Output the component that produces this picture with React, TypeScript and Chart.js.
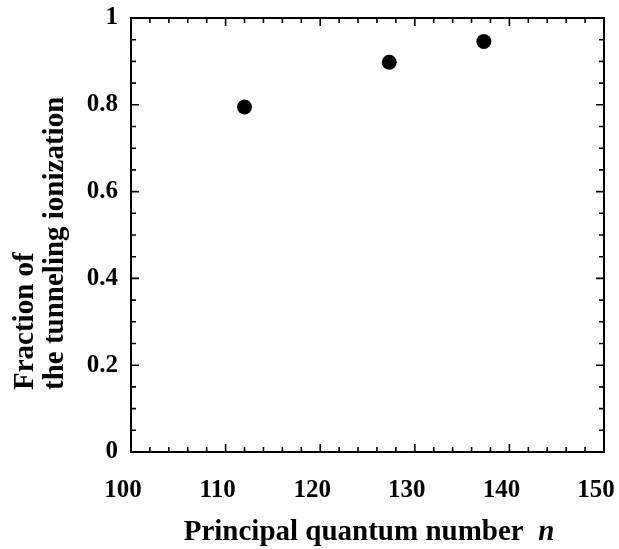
import React, { useEffect, useRef } from 'react';
import { Chart, registerables } from 'chart.js';

Chart.register(...registerables);

// ---- data ----
const quantumNumbers = [112, 127.3, 137.3];
const tunnelingFractions = [0.795, 0.898, 0.946];
const xTickValues = [100, 110, 120, 130, 140, 150];
const xTickLabels = ['100', '110', '120', '130', '140', '150'];
const yTickValues = [0, 0.2, 0.4, 0.6, 0.8, 1];
const yTickLabels = ['0', '0.2', '0.4', '0.6', '0.8', '1'];
const xMinorStep = 2;
const yMinorStep = 0.05;
const xTitleMain = 'Principal quantum number';
const xTitleVar = 'n';
const yTitleLines = ['Fraction of', 'the tunneling ionization'];

const FONT = '"Liberation Serif", "Times New Roman", serif';

const framePlugin = {
  id: 'frame',
  afterDraw(chart: any) {
    const { ctx, chartArea: a, scales } = chart;
    const x = scales.x;
    const y = scales.y;
    ctx.save();
    ctx.strokeStyle = '#000';
    ctx.lineWidth = 2;
    ctx.strokeRect(a.left, a.top, a.right - a.left, a.bottom - a.top);

    ctx.lineWidth = 1.6;
    const xMin = xTickValues[0];
    const xMax = xTickValues[xTickValues.length - 1];
    for (let i = 0; xMin + i * xMinorStep <= xMax + 1e-9; i++) {
      const v = xMin + i * xMinorStep;
      const px = x.getPixelForValue(v);
      const major = xTickValues.some((t) => Math.abs(t - v) < 1e-6);
      const len = major ? 8 : 5;
      ctx.beginPath();
      ctx.moveTo(px, a.bottom);
      ctx.lineTo(px, a.bottom - len);
      ctx.moveTo(px, a.top);
      ctx.lineTo(px, a.top + len);
      ctx.stroke();
    }
    const yMin = yTickValues[0];
    const yMax = yTickValues[yTickValues.length - 1];
    for (let i = 0; yMin + i * yMinorStep <= yMax + 1e-9; i++) {
      const v = yMin + i * yMinorStep;
      const py = y.getPixelForValue(v);
      const major = yTickValues.some((t) => Math.abs(t - v) < 1e-6);
      const len = major ? 8 : 5;
      ctx.beginPath();
      ctx.moveTo(a.left, py);
      ctx.lineTo(a.left + len, py);
      ctx.moveTo(a.right, py);
      ctx.lineTo(a.right - len, py);
      ctx.stroke();
    }

    // x title with italic variable
    ctx.fillStyle = '#000';
    ctx.textBaseline = 'alphabetic';
    ctx.textAlign = 'left';
    const mainFont = `bold 29px ${FONT}`;
    const varFont = `italic bold 29px ${FONT}`;
    ctx.font = mainFont;
    const mainText = xTitleMain + '  ';
    const wMain = ctx.measureText(mainText).width;
    ctx.font = varFont;
    const wVar = ctx.measureText(xTitleVar).width;
    const cx = 369;
    const startX = cx - (wMain + wVar) / 2;
    ctx.font = mainFont;
    ctx.fillText(mainText, startX, 540);
    ctx.font = varFont;
    ctx.fillText(xTitleVar, startX + wMain, 540);

    // y title, two lines, rotated, left-aligned (bottom)
    ctx.font = `bold 29px ${FONT}`;
    const baselines = [33, 63];
    yTitleLines.forEach((line, i) => {
      ctx.save();
      ctx.translate(baselines[i], 390);
      ctx.rotate(-Math.PI / 2);
      ctx.textAlign = 'left';
      ctx.fillText(line, 0, 0);
      ctx.restore();
    });
    ctx.restore();
  },
};

export default function App() {
  const canvasRef = useRef<HTMLCanvasElement | null>(null);

  useEffect(() => {
    document.body.style.margin = '0';
    const canvas = canvasRef.current;
    if (!canvas) return;
    const chart = new Chart(canvas, {
      type: 'scatter',
      data: {
        datasets: [
          {
            data: quantumNumbers.map((n, i) => ({ x: n, y: tunnelingFractions[i] })),
            backgroundColor: '#000',
            borderColor: '#000',
            borderWidth: 0,
            pointRadius: 7.5,
            pointHoverRadius: 7.5,
          },
        ],
      },
      options: {
        animation: false,
        responsive: false,
        maintainAspectRatio: false,
        devicePixelRatio: 1,
        layout: { padding: { top: 18, right: 15, bottom: 0, left: 0 } },
        plugins: { legend: { display: false }, tooltip: { enabled: false } },
        scales: {
          x: {
            type: 'linear',
            min: xTickValues[0],
            max: xTickValues[xTickValues.length - 1],
            afterBuildTicks: (scale: any) => {
              scale.ticks = xTickValues.map((v) => ({ value: v }));
            },
            afterFit: (scale: any) => {
              scale.height = 97;
              scale.paddingLeft = 0;
              scale.paddingRight = 0;
              scale.paddingTop = 0;
              scale.paddingBottom = 0;
            },
            grid: { display: false, drawTicks: false },
            border: { display: false },
            ticks: {
              padding: 24,
              labelOffset: -8,
              maxRotation: 0,
              autoSkip: false,
              color: '#000',
              font: { family: FONT, size: 25, weight: 'bold' },
              callback: (v: any) => {
                const idx = xTickValues.findIndex((t) => Math.abs(t - Number(v)) < 1e-6);
                return idx >= 0 ? xTickLabels[idx] : '';
              },
            },
          },
          y: {
            type: 'linear',
            min: yTickValues[0],
            max: yTickValues[yTickValues.length - 1],
            afterBuildTicks: (scale: any) => {
              scale.ticks = yTickValues.map((v) => ({ value: v }));
            },
            afterFit: (scale: any) => {
              scale.width = 131;
              scale.paddingLeft = 0;
              scale.paddingRight = 0;
              scale.paddingTop = 0;
              scale.paddingBottom = 0;
            },
            grid: { display: false, drawTicks: false },
            border: { display: false },
            ticks: {
              padding: 13,
              autoSkip: false,
              color: '#000',
              font: { family: FONT, size: 25, weight: 'bold' },
              callback: (v: any) => {
                const idx = yTickValues.findIndex((t) => Math.abs(t - Number(v)) < 1e-6);
                return idx >= 0 ? yTickLabels[idx] : '';
              },
            },
          },
        },
      },
      plugins: [framePlugin],
    });
    return () => chart.destroy();
  }, []);

  return (
    <div style={{ position: 'fixed', left: 0, top: 0, width: 619, height: 549, background: '#fff' }}>
      <canvas ref={canvasRef} width={619} height={549} style={{ display: 'block', width: 619, height: 549 }} />
    </div>
  );
}
